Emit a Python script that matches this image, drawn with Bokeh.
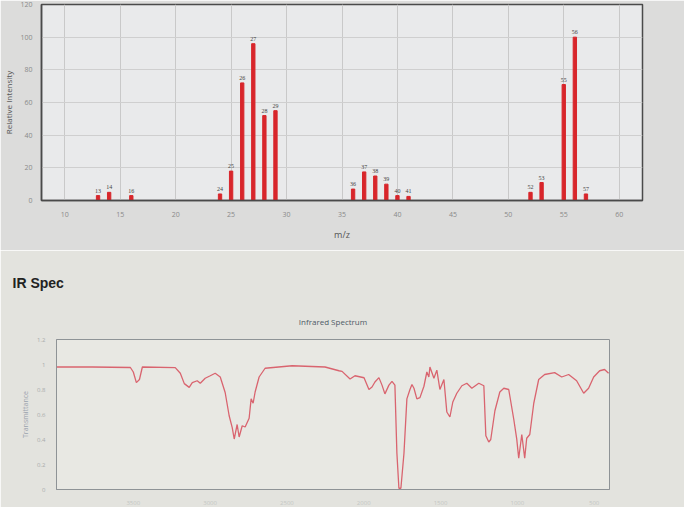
from bokeh.plotting import figure
from bokeh.models import ColumnDataSource, Title, FixedTicker, Range1d, LabelSet
from bokeh.embed import file_html
from bokeh.resources import INLINE

# ---- Mass spectrum data ----
mz = [13, 14, 16, 24, 25, 26, 27, 28, 29, 36, 37, 38, 39, 40, 41, 52, 53, 55, 56, 57]
intensity = [3, 5, 3, 4, 18, 72, 96, 52, 55, 7, 17.5, 15, 10, 3, 2.5, 5, 11, 71, 100, 4]
mz_ticks = [10, 15, 20, 25, 30, 35, 40, 45, 50, 55, 60]
intensity_ticks = [0, 20, 40, 60, 80, 100, 120]

# ---- IR spectrum data ----
ir_wavenumber = [4000, 3766, 3519, 3500, 3480, 3460, 3441, 3227, 3194, 3168,
                 3136, 3116, 3084, 3064, 3032, 2999, 2967, 2934, 2902, 2876,
                 2856, 2843, 2824, 2811, 2791, 2772, 2746, 2733, 2720, 2707,
                 2681, 2642, 2466, 2252, 2161, 2141, 2089, 2057, 1998, 1966,
                 1946, 1927, 1901, 1881, 1862, 1836, 1816, 1797, 1784, 1771,
                 1758, 1738, 1719, 1699, 1686, 1673, 1654, 1634, 1608, 1589,
                 1576, 1569, 1543, 1524, 1504, 1478, 1459, 1439, 1420, 1394,
                 1361, 1329, 1296, 1251, 1218, 1205, 1186, 1173, 1146, 1114,
                 1088, 1056, 1023, 1004, 991, 971, 952, 939, 919, 893,
                 861, 822, 757, 711, 666, 614, 568, 536, 503, 464, 432, 406]
ir_transmittance = [0.98, 0.98, 0.976, 0.94, 0.855, 0.88, 0.98, 0.975, 0.93, 0.847,
                    0.817, 0.855, 0.87, 0.85, 0.89, 0.91, 0.93, 0.90, 0.776, 0.59,
                    0.495, 0.404, 0.52, 0.42, 0.51, 0.50, 0.57, 0.725, 0.69, 0.78,
                    0.90, 0.97, 0.99, 0.98, 0.95, 0.945, 0.884, 0.91, 0.894, 0.80,
                    0.82, 0.86, 0.895, 0.835, 0.765, 0.835, 0.865, 0.835, 0.29, 0.01,
                    0.01, 0.29, 0.725, 0.80, 0.84, 0.81, 0.725, 0.735, 0.826, 0.94,
                    0.90, 0.98, 0.89, 0.955, 0.80, 0.88, 0.62, 0.58, 0.70, 0.77,
                    0.83, 0.85, 0.81, 0.85, 0.83, 0.43, 0.38, 0.40, 0.63, 0.78,
                    0.81, 0.80, 0.56, 0.405, 0.25, 0.44, 0.25, 0.41, 0.44, 0.69,
                    0.88, 0.92, 0.935, 0.90, 0.92, 0.87, 0.77, 0.81, 0.90, 0.95, 0.96, 0.93]
ir_x_ticks = [3500, 3000, 2500, 2000, 1500, 1000, 500]
ir_y_ticks = [0, 0.2, 0.4, 0.6, 0.8, 1.0, 1.2]

FONT = "Open Sans"

# ---------------- Mass spectrum ----------------
p1 = figure(width=684, height=250, title=None,
            x_range=Range1d(7.9, 62.1), y_range=Range1d(0, 120),
            output_backend="svg", toolbar_location=None,
            min_border_left=34, min_border_right=42, min_border_top=4, min_border_bottom=50)
p1.border_fill_color = "#dcdcdb"
p1.background_fill_color = "#e9eaeb"
p1.outline_line_color = "#4a4a4a"
p1.outline_line_width = 1.5

ms_src = ColumnDataSource(dict(mz=mz, intensity=intensity, label=[str(m) for m in mz]))
p1.vbar(x="mz", top="intensity", width=0.3, bottom=0, source=ms_src,
        fill_color="#d8262b", line_color="#d8262b")
p1.add_layout(LabelSet(x="mz", y="intensity", text="label", source=ms_src,
                       y_offset=3, text_align="center", text_baseline="bottom",
                       text_font_size="6px", text_color="#444444", text_font=FONT))

p1.xaxis.ticker = FixedTicker(ticks=mz_ticks)
p1.yaxis.ticker = FixedTicker(ticks=intensity_ticks)
for ax in (p1.xaxis[0], p1.yaxis[0]):
    ax.major_label_text_font_size = "7px"
    ax.major_label_text_color = "#8a8a8a"
    ax.major_label_text_font = FONT
    ax.axis_label_text_font = FONT
    ax.axis_label_text_font_style = "normal"
    ax.axis_label_text_color = "#555555"
    ax.major_tick_line_color = None
    ax.minor_tick_line_color = None
    ax.axis_line_color = "#4a4a4a"
    ax.axis_line_width = 1.5
p1.xaxis.axis_label = "m/z"
p1.xaxis.axis_label_text_font_size = "9px"
p1.xaxis.axis_label_standoff = 8
p1.yaxis.axis_label = "Relative Intensity"
p1.yaxis.axis_label_text_font_size = "8px"
p1.yaxis.axis_label_standoff = 3
p1.yaxis.major_label_standoff = 3
p1.xgrid.grid_line_color = "#c9c9c9"
p1.ygrid.grid_line_color = "#cfcfcf"

# ---------------- IR spectrum ----------------
p2 = figure(width=684, height=257, title="IR Spec",
            x_range=Range1d(4000, 400), y_range=Range1d(0, 1.2),
            output_backend="svg", toolbar_location=None,
            min_border_left=56, min_border_right=75, min_border_top=89, min_border_bottom=15)
p2.border_fill_color = "#e3e3de"
p2.background_fill_color = "#e8e8e3"
p2.outline_line_color = "#8e9396"
p2.outline_line_width = 1
p2.title.align = "left"
p2.title.offset = -44
p2.title.text_font = "Liberation Sans"
p2.title.text_font_size = "14px"
p2.title.text_font_style = "bold"
p2.title.text_color = "#222222"
p2.title.standoff = 20
p2.add_layout(Title(text="Infrared Spectrum", align="center", text_font=FONT,
                    text_font_size="8px", text_font_style="normal", text_color="#4d5a66",
                    standoff=26), "above")

p2.line(ir_wavenumber, ir_transmittance, line_color="#d9646f", line_width=1.3)

p2.xaxis.ticker = FixedTicker(ticks=ir_x_ticks)
p2.yaxis.ticker = FixedTicker(ticks=ir_y_ticks)
for ax in (p2.xaxis[0], p2.yaxis[0]):
    ax.major_label_text_font_size = "6px"
    ax.major_label_text_font = FONT
    ax.major_tick_line_color = None
    ax.minor_tick_line_color = None
    ax.axis_line_color = "#8e9396"
    ax.axis_label_text_font = FONT
    ax.axis_label_text_font_style = "normal"
p2.xaxis.major_label_text_color = "#c4c7c4"
p2.yaxis.major_label_text_color = "#a9abab"
p2.yaxis.axis_label = "Transmittance"
p2.yaxis.axis_label_text_font_size = "7px"
p2.yaxis.axis_label_text_color = "#9aa2ad"
p2.yaxis.axis_label_standoff = 4
p2.xgrid.grid_line_color = None
p2.ygrid.grid_line_color = None

open("out.html", "w").write(file_html([p1, p2], INLINE))
